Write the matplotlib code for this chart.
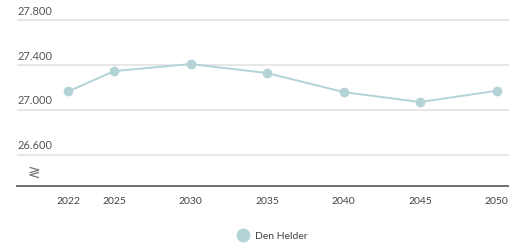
from matplotlib import pyplot as plt
from matplotlib.lines import Line2D

# data
years = [2022, 2025, 2030, 2035, 2040, 2045, 2050]
population = [27164, 27346, 27409, 27328, 27158, 27069, 27170]
series_name = 'Den Helder'
y_ticks = [26600, 27000, 27400, 27800]
y_tick_labels = ['26.600', '27.000', '27.400', '27.800']

plt.rcParams['font.family'] = ['Lato', 'DejaVu Sans']

fig = plt.figure(figsize=(5.1, 2.43), dpi=100)
W, H = 510, 243
# axes from x=17..510, y=10..185 (pixels)
ax = fig.add_axes([17 / W, 1 - 185.5 / H, (510 - 17) / W, (185.5 - 10) / H])

line_color = '#b3d3d6'
ax.plot(years, population, color=line_color, lw=1.4, marker='o', ms=6,
        markerfacecolor=line_color, markeredgecolor=line_color, zorder=3)

ax.set_xlim(2018.65, 2050.87)
ax.set_ylim(26323, 27892)

for v, lab in zip(y_ticks, y_tick_labels):
    ax.axhline(v, color='#e3e3e3', lw=1.2, zorder=1)
    ax.text(0.002, v + 30, lab, transform=ax.get_yaxis_transform(),
            ha='left', va='bottom', fontsize=8, color='#555555')

# axis break sign
ax.text(0.035, 26440, '≷', transform=ax.get_yaxis_transform(), ha='center',
        va='center', fontsize=11, color='#777777', family=['DejaVu Sans'])

ax.set_yticks([])
ax.set_xticks(years)
ax.set_xticklabels([str(y) for y in years], fontsize=7.5, color='#444444')
ax.tick_params(axis='x', length=0, pad=8)
for s in ['top', 'right', 'left']:
    ax.spines[s].set_visible(False)
ax.spines['bottom'].set_color('#6f6f6f')
ax.spines['bottom'].set_linewidth(1.4)

handle = Line2D([], [], ls='none', marker='o', ms=9, color=line_color)
fig.legend([handle], [series_name], loc='center', bbox_to_anchor=(270 / W, 1 - 236 / H),
           frameon=False, fontsize=7.5, handletextpad=0.1, labelcolor='#444444')

fig.savefig('out.png', dpi=100)
